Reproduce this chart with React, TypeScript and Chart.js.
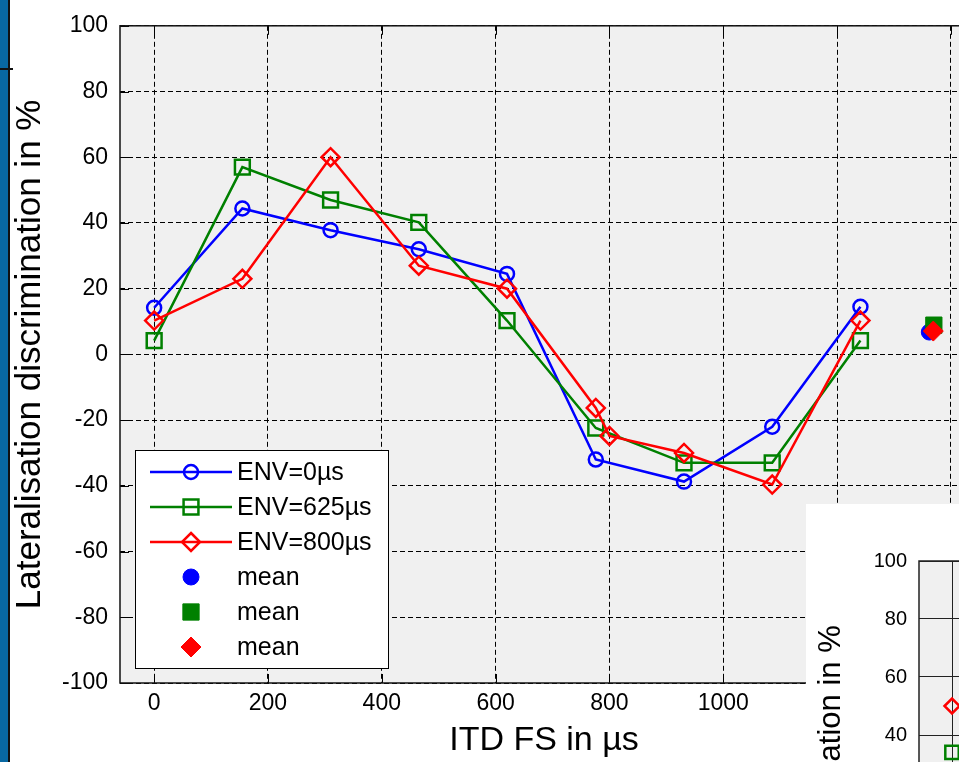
import React, { useEffect, useRef } from 'react';
import { Chart, registerables } from 'chart.js';

Chart.register(...registerables);

// ---------- data ----------
const itdFS = [0, 155, 310, 465, 620, 776, 931, 1086, 1241];
const itdFS800 = [0, 155, 310, 465, 620, 776, 800, 931, 1086, 1241];
const env0 = [14.2, 44.4, 37.8, 32, 24.5, -32, -38.7, -22, 14.5];
const env625 = [4.2, 57, 47, 40.2, 10.3, -22.4, -33, -33, 4.2];
const env800 = [10.3, 23, 60, 27, 20, -16.3, -24.8, -30, -39.6, 10.3];
const meanITD = [1362, 1370, 1369];
const meanLat = [6.8, 8.9, 7.1];
const xTicks = [0, 200, 400, 600, 800, 1000, 1200, 1400];
const yTicks = [-100, -80, -60, -40, -20, 0, 20, 40, 60, 80, 100];
const insetITD = [0];
const insetEnv625 = [34];
const insetEnv800 = [50];

const FONT = "'Liberation Sans', Arial, Helvetica, sans-serif";
const BLUE = '#0000ff';
const GREEN = '#008000';
const RED = '#ff0000';

function pts(xs: number[], ys: number[]) {
  return xs.map((x, i) => ({ x, y: ys[i] }));
}

const plainTick = (v: any) => String(v);

function markerPath(ctx: CanvasRenderingContext2D, style: string, x: number, y: number, r: number) {
  ctx.beginPath();
  if (style === 'circle') {
    ctx.arc(x, y, r, 0, Math.PI * 2);
  } else if (style === 'rect') {
    const s = Math.SQRT1_2 * r;
    ctx.rect(x - s, y - s, 2 * s, 2 * s);
  } else {
    ctx.moveTo(x, y - r);
    ctx.lineTo(x + r, y);
    ctx.lineTo(x, y + r);
    ctx.lineTo(x - r, y);
    ctx.closePath();
  }
}

const framePlugin = {
  id: 'matlabFrame',
  beforeDraw(chart: any, _a: any, opts: any) {
    const { ctx, chartArea: a } = chart;
    ctx.save();
    ctx.fillStyle = opts.bg || '#f0f0f0';
    ctx.fillRect(a.left, a.top, a.right - a.left, a.bottom - a.top);
    ctx.restore();
  },
  beforeDatasetsDraw(chart: any, _a: any, opts: any) {
    const { ctx, chartArea: a } = chart;
    const xs = chart.scales.x;
    const ys = chart.scales.y;
    const tl = opts.tickLen || 0;
    ctx.save();
    ctx.strokeStyle = '#000';
    ctx.lineWidth = 1;
    if (tl > 0) {
      ctx.beginPath();
      xs.ticks.forEach((t: any) => {
        const px = Math.round(xs.getPixelForValue(t.value)) + 0.5;
        ctx.moveTo(px, a.bottom);
        ctx.lineTo(px, a.bottom - tl);
        ctx.moveTo(px, a.top);
        ctx.lineTo(px, a.top + tl);
      });
      ys.ticks.forEach((t: any) => {
        const py = Math.round(ys.getPixelForValue(t.value)) + 0.5;
        ctx.moveTo(a.left, py);
        ctx.lineTo(a.left + tl, py);
        ctx.moveTo(a.right, py);
        ctx.lineTo(a.right - tl, py);
      });
      ctx.stroke();
    }
    ctx.strokeStyle = opts.frameColor || '#111';
    ctx.lineWidth = opts.frameWidth || 1.5;
    ctx.strokeRect(a.left, a.top, a.right - a.left, a.bottom - a.top);
    ctx.restore();
  },
};

const legendPlugin = {
  id: 'matlabLegend',
  afterDatasetsDraw(chart: any, _a: any, opts: any) {
    if (!opts || !opts.box) return;
    const { ctx } = chart;
    const [bx, by, bw, bh] = opts.box;
    ctx.save();
    ctx.fillStyle = '#fff';
    ctx.fillRect(bx, by, bw, bh);
    ctx.strokeStyle = '#000';
    ctx.lineWidth = 1;
    ctx.strokeRect(bx + 0.5, by + 0.5, bw, bh);
    chart.data.datasets.forEach((ds: any, i: number) => {
      const y = opts.firstRow + i * opts.rowGap;
      const color = ds.borderColor;
      if (ds.showLine !== false) {
        ctx.strokeStyle = color;
        ctx.lineWidth = ds.borderWidth;
        ctx.beginPath();
        ctx.moveTo(opts.lineX0, y);
        ctx.lineTo(opts.lineX1, y);
        ctx.stroke();
      }
      markerPath(ctx, ds.pointStyle, opts.markerX, y, ds.pointRadius);
      if (ds.pointBackgroundColor && ds.pointBackgroundColor !== 'rgba(0,0,0,0)') {
        ctx.fillStyle = ds.pointBackgroundColor;
        ctx.fill();
      }
      ctx.strokeStyle = ds.pointBorderColor;
      ctx.lineWidth = ds.pointBorderWidth;
      ctx.stroke();
      ctx.fillStyle = '#000';
      ctx.font = `${opts.fontSize}px ${FONT}`;
      ctx.textBaseline = 'middle';
      ctx.textAlign = 'left';
      ctx.fillText(ds.label, opts.textX, y + 1);
    });
    ctx.restore();
  },
};

function seriesDs(label: string, data: any[], color: string, style: string, r: number, order: number) {
  return {
    label,
    data,
    borderColor: color,
    backgroundColor: color,
    borderWidth: 2.5,
    pointStyle: style,
    pointRadius: r,
    pointHoverRadius: r,
    pointBorderWidth: 2.5,
    pointBorderColor: color,
    pointBackgroundColor: 'rgba(0,0,0,0)',
    showLine: true,
    tension: 0,
    fill: false,
    order,
  };
}

function meanDs(label: string, data: any[], color: string, style: string, r: number, order: number) {
  return {
    label,
    data,
    borderColor: color,
    backgroundColor: color,
    borderWidth: 1,
    pointStyle: style,
    pointRadius: r,
    pointHoverRadius: r,
    pointBorderWidth: 1,
    pointBorderColor: color,
    pointBackgroundColor: color,
    showLine: false,
    order,
  };
}

export default function App() {
  const mainRef = useRef<HTMLCanvasElement>(null);
  const insetRef = useRef<HTMLCanvasElement>(null);

  useEffect(() => {
    if (!mainRef.current || !insetRef.current) return;

    const main = new Chart(mainRef.current, {
      type: 'line',
      data: {
        datasets: [
          seriesDs('ENV=0µs', pts(itdFS, env0), BLUE, 'circle', 7, 6),
          seriesDs('ENV=625µs', pts(itdFS, env625), GREEN, 'rect', 10.5, 5),
          seriesDs('ENV=800µs', pts(itdFS800, env800), RED, 'rectRot', 9, 4),
          meanDs('mean', [{ x: meanITD[0], y: meanLat[0] }], BLUE, 'circle', 8, 3),
          meanDs('mean', [{ x: meanITD[1], y: meanLat[1] }], GREEN, 'rect', 11.5, 2),
          meanDs('mean', [{ x: meanITD[2], y: meanLat[2] }], RED, 'rectRot', 10, 1),
        ] as any,
      },
      options: {
        animation: false,
        responsive: false,
        devicePixelRatio: 1,
        events: [],
        layout: { padding: { left: 0, top: 20, right: 32, bottom: 0 } },
        plugins: {
          legend: { display: false },
          tooltip: { enabled: false },
          matlabFrame: { bg: '#f0f0f0', tickLen: 9, frameColor: '#111', frameWidth: 1.5 },
          matlabLegend: {
            box: [135, 450, 253, 218],
            firstRow: 472,
            rowGap: 35,
            lineX0: 150,
            lineX1: 232,
            markerX: 191,
            textX: 237,
            fontSize: 25,
          },
        } as any,
        scales: {
          x: {
            type: 'linear',
            min: -60,
            max: 1430,
            afterFit: (s: any) => { s.height = 79; },
            afterBuildTicks: (s: any) => { s.ticks = xTicks.map((v) => ({ value: v })); },
            ticks: { color: '#000', font: { family: FONT, size: 23 }, padding: 7, maxRotation: 0, autoSkip: false, callback: plainTick },
            grid: { color: '#000', lineWidth: 1, drawTicks: false },
            border: { display: false, dash: [5, 3] },
            title: {
              display: true,
              text: 'ITD FS in µs',
              color: '#000',
              font: { family: FONT, size: 34 },
              padding: { top: 0, bottom: 1 },
            },
          },
          y: {
            type: 'linear',
            min: -100,
            max: 100,
            afterFit: (s: any) => { s.width = 120; },
            afterBuildTicks: (s: any) => { s.ticks = yTicks.map((v) => ({ value: v })); },
            ticks: { color: '#000', font: { family: FONT, size: 23 }, padding: 12, autoSkip: false, callback: plainTick },
            grid: { color: '#000', lineWidth: 1, drawTicks: false },
            border: { display: false, dash: [5, 3] },
            title: {
              display: true,
              text: 'Lateralisation discrimination in %',
              color: '#000',
              font: { family: FONT, size: 35 },
              padding: { top: 9, bottom: 0 },
            },
          },
        },
      } as any,
      plugins: [framePlugin, legendPlugin],
    });

    const inset = new Chart(insetRef.current, {
      type: 'line',
      data: {
        datasets: [
          seriesDs('ENV=625µs', pts(insetITD, insetEnv625), GREEN, 'rect', 9.5, 2),
          seriesDs('ENV=800µs', pts(insetITD, insetEnv800), RED, 'rectRot', 7.5, 1),
        ] as any,
      },
      options: {
        animation: false,
        responsive: false,
        devicePixelRatio: 1,
        events: [],
        layout: { padding: { left: 0, top: 57, right: 67, bottom: 0 } },
        plugins: {
          legend: { display: false },
          tooltip: { enabled: false },
          matlabFrame: { bg: '#f0f0f0', tickLen: 0, frameColor: '#222', frameWidth: 1.5 },
        } as any,
        scales: {
          x: {
            type: 'linear',
            min: -60,
            max: 1430,
            afterFit: (s: any) => { s.height = 63; },
            afterBuildTicks: (s: any) => { s.ticks = xTicks.map((v) => ({ value: v })); },
            ticks: { color: '#000', font: { family: FONT, size: 20 }, padding: 6, callback: plainTick },
            grid: { color: '#222', lineWidth: 1, drawTicks: false },
            border: { display: false },
          },
          y: {
            type: 'linear',
            min: -100,
            max: 100,
            afterFit: (s: any) => { s.width = 113; },
            afterBuildTicks: (s: any) => { s.ticks = yTicks.map((v) => ({ value: v })); },
            ticks: { color: '#000', font: { family: FONT, size: 20 }, padding: 12, callback: plainTick },
            grid: { color: '#222', lineWidth: 1, drawTicks: false },
            border: { display: false },
            title: {
              display: true,
              text: 'Lateralisation discrimination in %',
              color: '#000',
              font: { family: FONT, size: 31 },
              padding: { top: 7, bottom: 0 },
            },
          },
        },
      } as any,
      plugins: [framePlugin],
    });

    return () => {
      main.destroy();
      inset.destroy();
    };
  }, []);

  return (
    <div
      style={{
        position: 'fixed',
        left: 0,
        top: 0,
        width: 959,
        height: 762,
        overflow: 'hidden',
        background: '#fff',
      }}
    >
      <canvas
        ref={mainRef}
        width={1000}
        height={762}
        style={{ position: 'absolute', left: 0, top: 0, width: 1000, height: 762 }}
      />
      <div
        style={{
          position: 'absolute',
          left: 806,
          top: 504,
          width: 153,
          height: 258,
          overflow: 'hidden',
          background: '#fff',
        }}
      >
        <canvas
          ref={insetRef}
          width={1000}
          height={700}
          style={{ position: 'absolute', left: 0, top: 0, width: 1000, height: 700 }}
        />
      </div>
      <div style={{ position: 'absolute', left: 0, top: 0, width: 8, height: 762, background: '#0868a2' }} />
      <div style={{ position: 'absolute', left: 8, top: 0, width: 2, height: 762, background: '#111' }} />
      <div style={{ position: 'absolute', left: 0, top: 68, width: 13, height: 2, background: '#111' }} />
    </div>
  );
}
